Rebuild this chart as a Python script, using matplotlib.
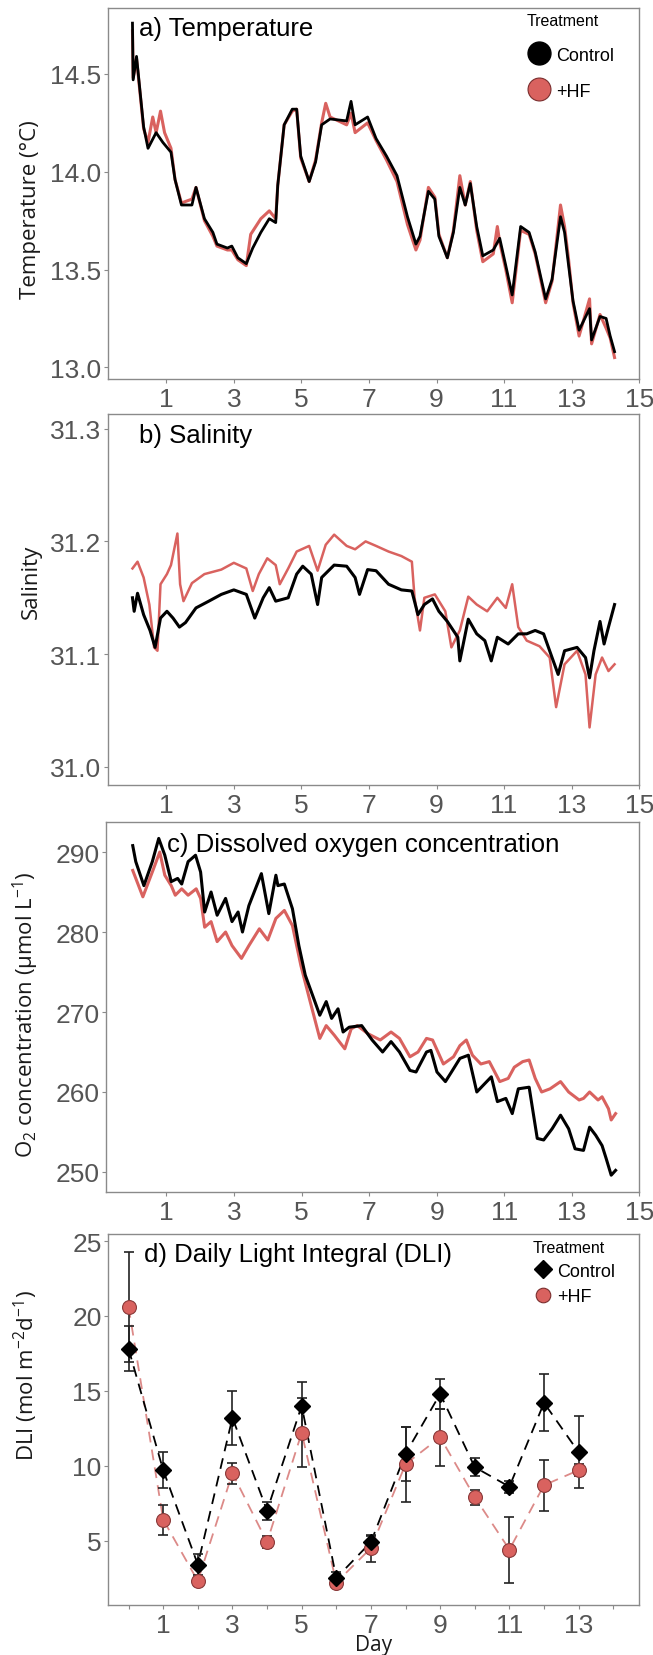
import matplotlib
matplotlib.use("Agg")
import matplotlib.pyplot as plt
from matplotlib.lines import Line2D

plt.rcParams['font.family'] = ['Liberation Sans', 'DejaVu Sans']
plt.rcParams['mathtext.fontset'] = 'custom'
plt.rcParams['mathtext.rm'] = 'Open Sans'

RED = '#d9625f'
LIGHT_RED = '#dc8a88'
TICK_COLOR = '#555555'
SPINE_COLOR = '#8a8a8a'

# ---- a) temperature (days, degC) ----
temp_day_ctrl = [0.0, 0.02, 0.12, 0.33, 0.46, 0.7, 0.9, 1.14, 1.26, 1.45, 1.76, 1.88, 2.13, 2.38, 2.5,
                 2.81, 2.94, 3.12, 3.37, 3.56, 3.8, 4.05, 4.24, 4.3, 4.49, 4.73, 4.86, 4.98, 5.23, 5.42,
                 5.6, 5.85, 6.34, 6.47, 6.59, 6.96, 7.21, 7.52, 7.83, 8.14, 8.39, 8.51, 8.76, 8.95, 9.07,
                 9.32, 9.5, 9.69, 9.85, 10.0, 10.19, 10.37, 10.68, 10.87, 11.05, 11.24, 11.49, 11.74,
                 11.92, 12.23, 12.42, 12.67, 12.79, 12.91, 13.04, 13.22, 13.53, 13.59, 13.84, 14.02,
                 14.14, 14.27]
temp_ctrl = [14.76, 14.47, 14.59, 14.23, 14.12, 14.20, 14.15, 14.10, 13.96, 13.83, 13.83, 13.92, 13.76,
             13.69, 13.63, 13.61, 13.62, 13.56, 13.53, 13.61, 13.69, 13.76, 13.74, 13.93, 14.24, 14.32,
             14.32, 14.08, 13.95, 14.05, 14.24, 14.27, 14.26, 14.36, 14.24, 14.28, 14.17, 14.08, 13.98,
             13.77, 13.63, 13.67, 13.90, 13.86, 13.67, 13.56, 13.69, 13.92, 13.83, 13.94, 13.72, 13.57,
             13.60, 13.66, 13.52, 13.37, 13.72, 13.69, 13.59, 13.35, 13.45, 13.77, 13.69, 13.52, 13.34,
             13.19, 13.30, 13.14, 13.26, 13.25, 13.16, 13.08]
temp_day_hf = [0.0, 0.02, 0.12, 0.33, 0.46, 0.6, 0.7, 0.83, 0.95, 1.14, 1.26, 1.45, 1.6, 1.76, 1.88,
               2.13, 2.38, 2.5, 2.81, 2.94, 3.12, 3.37, 3.5, 3.8, 4.05, 4.24, 4.3, 4.49, 4.73, 4.86, 4.98,
               5.23, 5.42, 5.6, 5.72, 5.85, 6.34, 6.47, 6.59, 6.96, 7.21, 7.52, 7.83, 8.14, 8.39, 8.51,
               8.76, 8.95, 9.07, 9.32, 9.5, 9.69, 9.85, 10.0, 10.19, 10.37, 10.68, 10.8, 10.87, 11.05,
               11.24, 11.49, 11.74, 11.92, 12.23, 12.42, 12.67, 12.79, 12.91, 13.04, 13.22, 13.53, 13.59,
               13.84, 14.02, 14.14, 14.27]
temp_hf = [14.72, 14.48, 14.58, 14.22, 14.15, 14.28, 14.20, 14.31, 14.20, 14.12, 13.96, 13.84, 13.85,
           13.86, 13.92, 13.75, 13.67, 13.62, 13.60, 13.60, 13.55, 13.52, 13.68, 13.76, 13.80, 13.76,
           13.93, 14.24, 14.31, 14.32, 14.07, 13.95, 14.06, 14.25, 14.35, 14.28, 14.24, 14.30, 14.20,
           14.25, 14.16, 14.06, 13.95, 13.73, 13.60, 13.65, 13.92, 13.87, 13.68, 13.56, 13.70, 13.98,
           13.83, 13.95, 13.70, 13.54, 13.58, 13.72, 13.64, 13.50, 13.33, 13.70, 13.68, 13.58, 13.33,
           13.44, 13.83, 13.72, 13.55, 13.33, 13.16, 13.35, 13.12, 13.27, 13.20, 13.15, 13.05]

# ---- b) salinity ----
sal_day_ctrl = [0.0, 0.05, 0.15, 0.33, 0.52, 0.67, 0.83, 1.02, 1.2, 1.39, 1.57, 1.88, 2.26, 2.63, 3.0,
                3.37, 3.62, 3.87, 4.05, 4.24, 4.61, 4.86, 5.04, 5.29, 5.48, 5.6, 5.97, 6.34, 6.59, 6.72,
                6.96, 7.21, 7.58, 7.96, 8.27, 8.45, 8.64, 8.88, 9.07, 9.32, 9.63, 9.69, 9.94, 10.19,
                10.43, 10.62, 10.8, 11.12, 11.42, 11.67, 11.92, 12.17, 12.42, 12.6, 12.79, 13.16, 13.41,
                13.53, 13.66, 13.84, 13.96, 14.09, 14.27]
sal_ctrl = [31.150, 31.138, 31.154, 31.135, 31.121, 31.106, 31.132, 31.138, 31.132, 31.124, 31.128,
            31.141, 31.147, 31.153, 31.157, 31.153, 31.132, 31.150, 31.159, 31.147, 31.150, 31.171,
            31.178, 31.171, 31.144, 31.168, 31.179, 31.178, 31.168, 31.153, 31.175, 31.174, 31.162,
            31.157, 31.156, 31.135, 31.144, 31.149, 31.138, 31.129, 31.115, 31.094, 31.131, 31.118,
            31.112, 31.094, 31.115, 31.109, 31.118, 31.118, 31.121, 31.118, 31.097, 31.082, 31.103,
            31.106, 31.097, 31.079, 31.103, 31.129, 31.109, 31.124, 31.144]
sal_day_hf = [0.0, 0.15, 0.33, 0.5, 0.64, 0.74, 0.83, 1.02, 1.14, 1.33, 1.41, 1.51, 1.76, 2.13, 2.63,
              3.0, 3.37, 3.56, 3.74, 3.99, 4.24, 4.36, 4.61, 4.86, 5.23, 5.48, 5.72, 5.97, 6.34, 6.59,
              6.9, 7.21, 7.58, 7.96, 8.27, 8.35, 8.51, 8.64, 8.95, 9.26, 9.44, 9.69, 9.94, 10.19, 10.5,
              10.8, 11.05, 11.24, 11.42, 11.67, 12.05, 12.35, 12.54, 12.79, 13.16, 13.41, 13.53, 13.71,
              13.9, 14.09, 14.27]
sal_hf = [31.176, 31.182, 31.168, 31.144, 31.106, 31.103, 31.162, 31.171, 31.179, 31.207, 31.162,
          31.147, 31.163, 31.171, 31.175, 31.181, 31.176, 31.156, 31.171, 31.185, 31.179, 31.162,
          31.176, 31.191, 31.196, 31.174, 31.197, 31.206, 31.196, 31.193, 31.200, 31.196, 31.191,
          31.187, 31.182, 31.150, 31.121, 31.150, 31.153, 31.138, 31.106, 31.121, 31.151, 31.144,
          31.138, 31.150, 31.141, 31.162, 31.124, 31.112, 31.107, 31.097, 31.053, 31.091, 31.103,
          31.082, 31.035, 31.082, 31.097, 31.085, 31.091]

# ---- c) dissolved oxygen (umol/L) ----
o2_day_ctrl = [0.0, 0.09, 0.33, 0.58, 0.77, 0.95, 1.14, 1.33, 1.45, 1.64, 1.86, 2.01, 2.13, 2.32, 2.5,
               2.75, 2.94, 3.12, 3.25, 3.44, 3.81, 4.03, 4.24, 4.3, 4.49, 4.73, 4.92, 5.11, 5.36, 5.54,
               5.73, 5.89, 6.08, 6.23, 6.41, 6.78, 7.09, 7.4, 7.65, 7.9, 8.21, 8.39, 8.7, 8.83, 9.01,
               9.26, 9.44, 9.69, 9.94, 10.19, 10.37, 10.62, 10.8, 11.05, 11.24, 11.42, 11.74, 11.98,
               12.17, 12.42, 12.67, 12.91, 13.1, 13.35, 13.53, 13.71, 13.9, 14.02, 14.17, 14.3]
o2_ctrl = [290.8, 288.8, 285.8, 288.8, 291.7, 289.6, 286.3, 286.7, 286.0, 288.8, 289.6, 287.5, 282.5,
           285.0, 282.1, 284.2, 281.3, 282.5, 280.0, 283.3, 287.3, 282.3, 287.1, 285.8, 286.0, 282.9,
           278.3, 274.6, 271.7, 269.6, 271.3, 269.2, 270.4, 267.5, 268.1, 268.3, 266.5, 265.0, 266.3,
           265.0, 262.7, 262.5, 265.0, 265.2, 262.5, 261.3, 262.5, 264.2, 264.6, 260.0, 260.8, 261.9,
           258.8, 259.2, 257.3, 260.4, 260.6, 254.2, 254.0, 255.4, 257.1, 255.4, 252.9, 252.7, 255.6,
           254.6, 253.3, 251.7, 249.6, 250.2]
o2_day_hf = [0.0, 0.3, 0.58, 0.8, 0.95, 1.14, 1.26, 1.45, 1.64, 1.88, 2.01, 2.13, 2.32, 2.5, 2.75, 2.94,
             3.22, 3.44, 3.75, 4.0, 4.24, 4.49, 4.73, 4.98, 5.23, 5.54, 5.73, 5.97, 6.28, 6.47, 6.65,
             6.96, 7.33, 7.65, 7.9, 8.21, 8.45, 8.7, 8.88, 9.2, 9.5, 9.69, 9.88, 10.06, 10.31, 10.56,
             10.87, 11.12, 11.3, 11.55, 11.74, 11.92, 12.11, 12.36, 12.67, 12.91, 13.22, 13.35, 13.53,
             13.78, 13.9, 14.09, 14.17, 14.3]
o2_hf = [287.7, 284.4, 287.5, 290.0, 287.1, 285.8, 284.6, 285.4, 284.6, 285.4, 284.2, 280.6, 281.3,
         278.8, 280.0, 278.3, 276.7, 278.3, 280.4, 279.0, 281.7, 282.7, 280.8, 275.8, 271.7, 266.7,
         268.3, 267.1, 265.4, 267.9, 268.3, 267.3, 266.5, 267.5, 266.7, 264.4, 265.0, 266.7, 266.5,
         263.5, 264.4, 265.8, 266.5, 264.6, 263.5, 263.8, 261.3, 261.7, 263.1, 263.8, 264.0, 261.7,
         260.0, 260.4, 261.3, 260.0, 259.0, 259.2, 260.0, 259.0, 259.4, 257.9, 256.5, 257.3]

# ---- d) daily light integral ----
dli_day = [0, 1, 2, 3, 4, 5, 6, 7, 8, 9, 10, 11, 12, 13]
dli_ctrl = [17.8, 9.7, 3.4, 13.2, 7.0, 14.0, 2.5, 4.9, 10.8, 14.8, 9.9, 8.6, 14.2, 10.9]
dli_ctrl_err = [1.5, 1.2, 0.7, 1.8, 0.6, 1.6, 0.4, 0.4, 1.8, 1.0, 0.6, 0.4, 1.9, 2.4]
dli_hf = [20.6, 6.4, 2.3, 9.5, 4.9, 12.2, 2.2, 4.5, 10.1, 11.9, 7.9, 4.4, 8.7, 9.7]
dli_hf_err = [3.7, 1.0, 0.3, 0.7, 0.4, 2.3, 0.3, 0.9, 2.5, 1.9, 0.5, 2.2, 1.7, 0.4]

odd_days = [1, 3, 5, 7, 9, 11, 13, 15]


def style_axes(ax):
    for side in ['left', 'bottom', 'top', 'right']:
        ax.spines[side].set_color(SPINE_COLOR)
        ax.spines[side].set_linewidth(1.0)
    ax.tick_params(axis='both', which='both', direction='out', length=3, width=0.8,
                   color=SPINE_COLOR, labelcolor=TICK_COLOR, labelsize=19)
    ax.tick_params(axis='x', pad=2.5)
    ax.tick_params(axis='y', pad=1.5)


def set_ylabel(ax, text, x, y):
    ax.set_ylabel(text, fontsize=16, family=['Open Sans', 'DejaVu Sans'], color='#1a1a1a')
    ax.yaxis.set_label_coords(x, y)
    ax.yaxis.label.set_verticalalignment('center')


fig = plt.figure(figsize=(6.53, 16.56), dpi=100)
ax_a = fig.add_axes([0.1651, 0.7705, 0.8138, 0.2239])
ax_b = fig.add_axes([0.1651, 0.5254, 0.8138, 0.2240])
ax_c = fig.add_axes([0.1619, 0.2796, 0.8170, 0.2234])
ax_d = fig.add_axes([0.1651, 0.0302, 0.8138, 0.2240])

# a) temperature
ax_a.plot(temp_day_hf, temp_hf, color=RED, lw=2.2)
ax_a.plot(temp_day_ctrl, temp_ctrl, color='black', lw=2.0)
ax_a.set_xlim(-0.73, 15.0)
ax_a.set_ylim(12.94, 14.836)
ax_a.set_xticks(odd_days)
ax_a.set_yticks([13.0, 13.5, 14.0, 14.5])
style_axes(ax_a)
set_ylabel(ax_a, 'Temperature (°C)', -0.146, 0.459)
ax_a.text(0.059, 0.929, 'a) Temperature', transform=ax_a.transAxes, fontsize=18.5, va='baseline')
ax_a.legend(handles=[Line2D([], [], ls='', marker='o', ms=16.5, color='black', mec='black'),
                     Line2D([], [], ls='', marker='o', ms=16.5, color=RED, mec='#7a2e2e', mew=0.8)],
            labels=['Control', '+HF'], title='Treatment', loc='upper left',
            bbox_to_anchor=(0.789, 0.988), frameon=False, borderpad=0, borderaxespad=0,
            handlelength=1.3, handletextpad=0.3, labelspacing=1.05, fontsize=13,
            title_fontsize=11.5, alignment='left')

# b) salinity
ax_b.plot(sal_day_hf, sal_hf, color=RED, lw=1.8)
ax_b.plot(sal_day_ctrl, sal_ctrl, color='black', lw=2.2)
ax_b.set_xlim(-0.73, 15.0)
ax_b.set_ylim(30.984, 31.313)
ax_b.set_xticks(odd_days)
ax_b.set_yticks([31.0, 31.1, 31.2, 31.3])
style_axes(ax_b)
set_ylabel(ax_b, 'Salinity', -0.144, 0.55)
ax_b.text(0.059, 0.925, 'b) Salinity', transform=ax_b.transAxes, fontsize=18.5, va='baseline')

# c) dissolved oxygen
ax_c.plot(o2_day_hf, o2_hf, color=RED, lw=2.2)
ax_c.plot(o2_day_ctrl, o2_ctrl, color='black', lw=2.2)
ax_c.set_xlim(-0.8, 15.0)
ax_c.set_ylim(247.5, 293.75)
ax_c.set_xticks(odd_days)
ax_c.set_yticks([250, 260, 270, 280, 290])
style_axes(ax_c)
set_ylabel(ax_c, r'O$_\mathregular{2}$ concentration (µmol L$^\mathregular{-1}$)', -0.149, 0.482)
ax_c.text(0.115, 0.922, 'c) Dissolved oxygen concentration', transform=ax_c.transAxes,
          fontsize=18.5, va='baseline')

# d) DLI
ax_d.plot(dli_day, dli_hf, color=LIGHT_RED, lw=1.3, ls=(0, (6, 4)), zorder=1)
ax_d.plot(dli_day, dli_ctrl, color='black', lw=1.3, ls=(0, (6, 4)), zorder=1)
ax_d.errorbar(dli_day, dli_ctrl, yerr=dli_ctrl_err, fmt='none', ecolor='#222222', elinewidth=1.2,
              capsize=3.5, capthick=1.2, zorder=2)
ax_d.errorbar(dli_day, dli_hf, yerr=dli_hf_err, fmt='none', ecolor='#222222', elinewidth=1.2,
              capsize=3.5, capthick=1.2, zorder=2)
ax_d.plot(dli_day, dli_hf, ls='', marker='o', ms=10, color=RED, mec='#8a3a3a', mew=0.8, zorder=3)
ax_d.plot(dli_day, dli_ctrl, ls='', marker='D', ms=8.5, color='black', zorder=4)
ax_d.set_xlim(-0.6, 14.75)
ax_d.set_ylim(0.7, 25.47)
ax_d.set_xticks([1, 3, 5, 7, 9, 11, 13])
ax_d.set_xticks(list(range(0, 15)), minor=True)
ax_d.set_yticks([5, 10, 15, 20, 25])
style_axes(ax_d)
set_ylabel(ax_d, r'DLI (mol m$^\mathregular{-2}$d$^\mathregular{-1}$)', -0.154, 0.62)
ax_d.set_xlabel('Day', fontsize=15, family=['Open Sans', 'DejaVu Sans'], color='#1a1a1a', labelpad=-2)
ax_d.text(0.068, 0.928, 'd) Daily Light Integral (DLI)', transform=ax_d.transAxes, fontsize=18.5,
          va='baseline')
ax_d.legend(handles=[Line2D([], [], ls='', marker='D', ms=9, color='black'),
                     Line2D([], [], ls='', marker='o', ms=10.5, color=RED, mec='#7a2e2e', mew=0.8)],
            labels=['Control', '+HF'], title='Treatment', loc='upper left',
            bbox_to_anchor=(0.80, 0.985), frameon=False, borderpad=0, borderaxespad=0,
            handlelength=1.1, handletextpad=0.25, labelspacing=0.45, fontsize=13,
            title_fontsize=11.5, alignment='left')

fig.savefig('out.png', dpi=100)
